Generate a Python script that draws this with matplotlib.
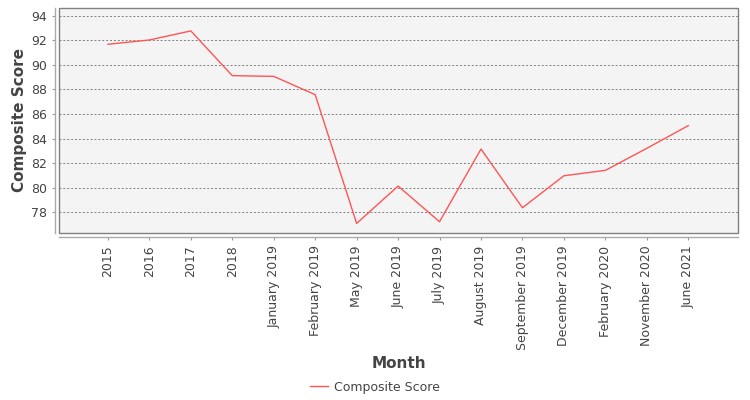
import matplotlib
matplotlib.use("Agg")
import matplotlib.pyplot as plt
from matplotlib.patches import Rectangle

categories = ["2015", "2016", "2017", "2018", "January 2019", "February 2019",
              "May 2019", "June 2019", "July 2019", "August 2019", "September 2019",
              "December 2019", "February 2020", "November 2020", "June 2021"]
scores = [91.69, 92.04, 92.78, 89.13, 89.07, 87.58, 77.07, 80.12, 77.21,
          83.14, 78.35, 80.96, 81.40, 83.20, 85.05]
yticks = [78, 80, 82, 84, 86, 88, 90, 92, 94]

plt.rcParams['font.family'] = ['DejaVu Sans']
fig = plt.figure(figsize=(7.5, 4), dpi=100)
ax = fig.add_axes([59/750, 1-233/400, (738-59)/750, (233-8)/400])
ax.set_facecolor('#F4F4F4')

x = list(range(len(categories)))
ax.plot(x, scores, color='#FF5555', lw=1.0, label='Composite Score')

ax.set_xlim(-1.18, len(categories) - 1 + 1.2)
ax.set_ylim(76.29, 94.65)
ax.set_yticks(yticks)
ax.set_xticks(x)
ax.tick_params(axis='both', labelsize=9, colors='#444444', length=2, width=0.8)
ax.tick_params(axis='x', pad=4, color='#999999', labelrotation=90)
ax.tick_params(axis='y', color='#999999')
ax.set_xticklabels(categories, rotation=90, ha='center', va='top')
ax.yaxis.grid(True, color='#808080', linestyle=(0, (2, 2)), lw=0.7)
ax.set_axisbelow(True)

for s in ['top', 'right']:
    ax.spines[s].set_visible(False)
for s in ['left', 'bottom']:
    ax.spines[s].set_position(('outward', 3))
    ax.spines[s].set_color('#AAAAAA')
    ax.spines[s].set_linewidth(1)

ax.add_patch(Rectangle((0, 0), 1, 1, transform=ax.transAxes, fill=False,
                       edgecolor='#808080', lw=1.0, clip_on=False, zorder=5))

ax.set_ylabel('Composite Score', fontsize=11, fontweight='bold', color='#444444', labelpad=3)
fig.text((59+738)/2/750, 1-364/400, 'Month', fontsize=11, fontweight='bold',
         color='#444444', ha='center', va='center')

leg = fig.legend(loc='center', bbox_to_anchor=(0.5, 1-387/400), frameon=False,
                 fontsize=9, handlelength=1.4, handletextpad=0.5)
for t in leg.get_texts():
    t.set_color('#444444')

fig.savefig('out.png', dpi=100)
